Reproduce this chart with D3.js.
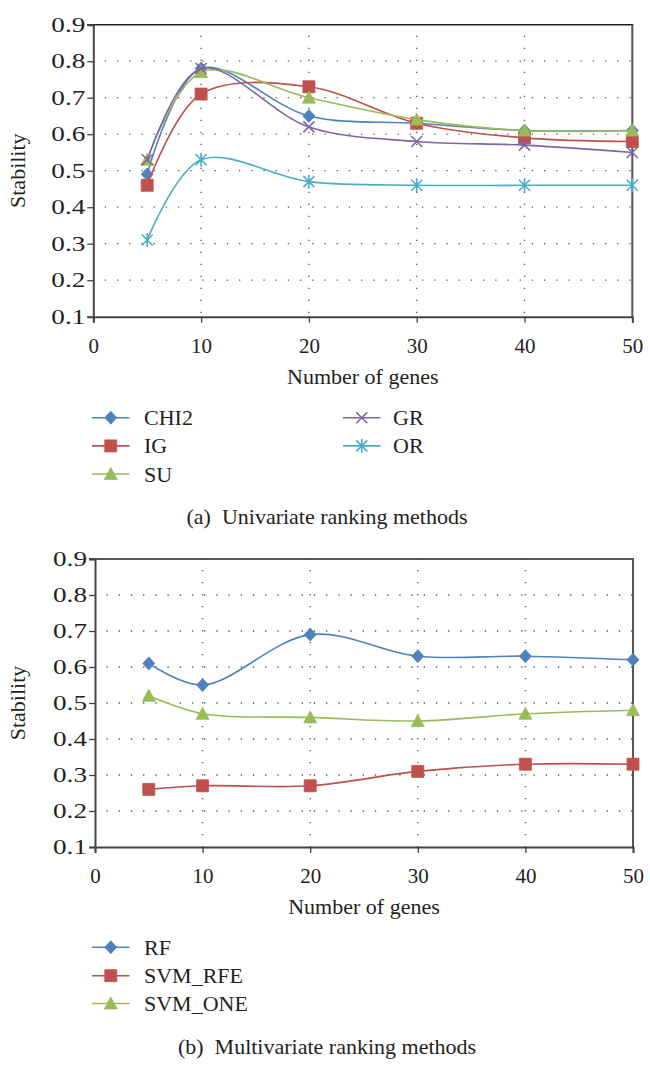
<!DOCTYPE html>
<html>
<head>
<meta charset="utf-8">
<script src="https://cdn.jsdelivr.net/npm/d3@7/dist/d3.min.js"></script>
<style>
  html, body { margin: 0; padding: 0; background: #fff; }
  svg { display: block; }
  text { font-family: "Liberation Serif", "DejaVu Serif", serif; fill: #231f20; }
</style>
</head>
<body>
<svg id="chart" width="650" height="1070"></svg>
<script>
// ---------- data ----------
const genes = [5, 10, 20, 30, 40, 50];
const xTicks = [0, 10, 20, 30, 40, 50];
const yTicks = [0.1, 0.2, 0.3, 0.4, 0.5, 0.6, 0.7, 0.8, 0.9];
const yTickLabels = ["0.1", "0.2", "0.3", "0.4", "0.5", "0.6", "0.7", "0.8", "0.9"];

const uniNames = ["CHI2", "IG", "SU", "GR", "OR"];
const chi2 = [0.49, 0.78, 0.65, 0.63, 0.61, 0.61];
const ig   = [0.46, 0.71, 0.73, 0.63, 0.59, 0.58];
const su   = [0.53, 0.77, 0.70, 0.64, 0.61, 0.61];
const gr   = [0.53, 0.78, 0.62, 0.58, 0.57, 0.55];
const orv  = [0.31, 0.53, 0.47, 0.46, 0.46, 0.46];

const multiNames = ["RF", "SVM_RFE", "SVM_ONE"];
const rf     = [0.61, 0.55, 0.69, 0.63, 0.63, 0.62];
const svmRfe = [0.26, 0.27, 0.27, 0.31, 0.33, 0.33];
const svmOne = [0.52, 0.47, 0.46, 0.45, 0.47, 0.48];

const xTitle = "Number of genes";
const yTitle = "Stability";
const captionA = "(a)\u2002Univariate ranking methods";
const captionB = "(b)\u2002Multivariate ranking methods";

const colors = { blue: "#4F81BD", red: "#C0504D", green: "#9BBB59", purple: "#8064A2", cyan: "#4BACC6" };

const svg = d3.select("#chart");

function markerPath(shape) {
  switch (shape) {
    case "diamond": return "M0,-6.5L6,0L0,6.5L-6,0Z";
    case "square": return "M-6,-6H6V6H-6Z";
    case "triangle": return "M0,-6.5L6.5,5.5L-6.5,5.5Z";
    case "x": return "M-5.5,-5.5L5.5,5.5M-5.5,5.5L5.5,-5.5";
    case "star": return "M-5.5,-5.5L5.5,5.5M-5.5,5.5L5.5,-5.5M0,-7L0,7";
  }
}
function drawMarker(g, shape, color, x, y) {
  const filled = shape === "diamond" || shape === "square" || shape === "triangle";
  g.append("path")
    .attr("d", markerPath(shape))
    .attr("transform", `translate(${x},${y})`)
    .attr("fill", filled ? color : "none")
    .attr("stroke", color)
    .attr("stroke-width", filled ? 0.8 : 1.6);
}

function drawChart(cfg) {
  const g = svg.append("g");
  const x = d3.scaleLinear().domain([0, 50]).range([cfg.x0, cfg.x1]);
  const y = d3.scaleLinear().domain([0.1, 0.9]).range([cfg.y0, cfg.y1]);

  // dotted gridlines
  g.append("g").selectAll("line").data(yTicks.slice(1, -1)).join("line")
    .attr("x1", cfg.x0).attr("x2", cfg.x1)
    .attr("y1", d => y(d)).attr("y2", d => y(d))
    .attr("stroke", "#555").attr("stroke-width", 1.3)
    .attr("stroke-dasharray", "1.3,10.9").attr("stroke-dashoffset", -11.5);
  g.append("g").selectAll("line").data(xTicks.slice(1, -1)).join("line")
    .attr("x1", d => x(d)).attr("x2", d => x(d))
    .attr("y1", cfg.y1).attr("y2", cfg.y0)
    .attr("stroke", "#555").attr("stroke-width", 1.3)
    .attr("stroke-dasharray", "1.3,10.7").attr("stroke-dashoffset", -11);

  // frame: top and right
  g.append("line").attr("x1", cfg.x0 - 6).attr("x2", cfg.x1 + 1)
    .attr("y1", cfg.y1).attr("y2", cfg.y1).attr("stroke", "#222").attr("stroke-width", 1.5);
  g.append("line").attr("x1", cfg.x1).attr("x2", cfg.x1)
    .attr("y1", cfg.y1).attr("y2", cfg.y0).attr("stroke", "#555").attr("stroke-width", 2);

  // axes
  const yAxis = d3.axisLeft(y).tickValues(yTicks).tickFormat((d, i) => yTickLabels[i])
    .tickSize(6).tickPadding(2);
  const ya = g.append("g").attr("transform", `translate(${cfg.x0},0)`).call(yAxis);
  ya.select(".domain").attr("stroke", "#444").attr("stroke-width", 2);
  ya.selectAll(".tick line").attr("stroke", "#444").attr("stroke-width", 1.3);
  ya.selectAll(".tick text").attr("font-size", 21).attr("fill", "#231f20")
    .attr("font-family", "Liberation Serif, serif")
    .attr("textLength", 34).attr("lengthAdjust", "spacingAndGlyphs");

  const xAxis = d3.axisBottom(x).tickValues(xTicks).tickFormat(d3.format("d"))
    .tickSize(6).tickPadding(15);
  const xa = g.append("g").attr("transform", `translate(0,${cfg.y0})`).call(xAxis);
  xa.select(".domain").attr("stroke", "#444").attr("stroke-width", 2);
  xa.selectAll(".tick line").attr("stroke", "#444").attr("stroke-width", 1.3);
  xa.selectAll(".tick text").attr("font-size", 21).attr("fill", "#231f20")
    .attr("font-family", "Liberation Serif, serif");

  // titles
  g.append("text").attr("x", (cfg.x0 + cfg.x1) / 2).attr("y", cfg.y0 + 67)
    .attr("text-anchor", "middle").attr("font-size", 22).text(xTitle);
  g.append("text").attr("transform", `translate(25,${(cfg.y0 + cfg.y1) / 2}) rotate(-90)`)
    .attr("text-anchor", "middle").attr("font-size", 22).text(yTitle);

  // series
  const line = d3.line().x((d, i) => x(genes[i])).y(d => y(d)).curve(d3.curveCatmullRom.alpha(0.5));
  cfg.series.forEach(s => {
    const sg = g.append("g");
    sg.append("path").attr("d", line(s.values)).attr("fill", "none")
      .attr("stroke", s.color).attr("stroke-width", 1.6);
    s.values.forEach((v, i) => drawMarker(sg, s.shape, s.color, x(genes[i]), y(v)));
  });

  // legend
  cfg.series.forEach((s, i) => {
    const col = cfg.legendCols[s.col];
    const ly = cfg.legendY[s.row];
    const lg = g.append("g");
    lg.append("line").attr("x1", col.lx1).attr("x2", col.lx2).attr("y1", ly).attr("y2", ly)
      .attr("stroke", s.color).attr("stroke-width", 1.6);
    drawMarker(lg, s.shape, s.color, (col.lx1 + col.lx2) / 2, ly);
    lg.append("text").attr("x", col.tx).attr("y", ly + 7.5).attr("font-size", 22).text(s.name);
  });

  // caption
  g.append("text").attr("x", 327).attr("y", cfg.captionY).attr("text-anchor", "middle")
    .attr("font-size", 22).text(cfg.caption);
}

const legendCols = [
  { lx1: 92, lx2: 129.5, tx: 144 },
  { lx1: 343, lx2: 380.5, tx: 393 }
];

drawChart({
  x0: 93.3, x1: 632.3, y0: 316.7, y1: 24.7,
  legendCols, legendY: [417.7, 445.9, 474],
  captionY: 524, caption: captionA,
  series: [
    { name: uniNames[0], values: chi2, color: colors.blue, shape: "diamond", col: 0, row: 0 },
    { name: uniNames[1], values: ig, color: colors.red, shape: "square", col: 0, row: 1 },
    { name: uniNames[2], values: su, color: colors.green, shape: "triangle", col: 0, row: 2 },
    { name: uniNames[3], values: gr, color: colors.purple, shape: "x", col: 1, row: 0 },
    { name: uniNames[4], values: orv, color: colors.cyan, shape: "star", col: 1, row: 1 }
  ]
});

drawChart({
  x0: 95, x1: 633, y0: 847, y1: 559,
  legendCols, legendY: [947.3, 975.7, 1003.5],
  captionY: 1054, caption: captionB,
  series: [
    { name: multiNames[0], values: rf, color: colors.blue, shape: "diamond", col: 0, row: 0 },
    { name: multiNames[1], values: svmRfe, color: colors.red, shape: "square", col: 0, row: 1 },
    { name: multiNames[2], values: svmOne, color: colors.green, shape: "triangle", col: 0, row: 2 }
  ]
});
</script>
</body>
</html>
